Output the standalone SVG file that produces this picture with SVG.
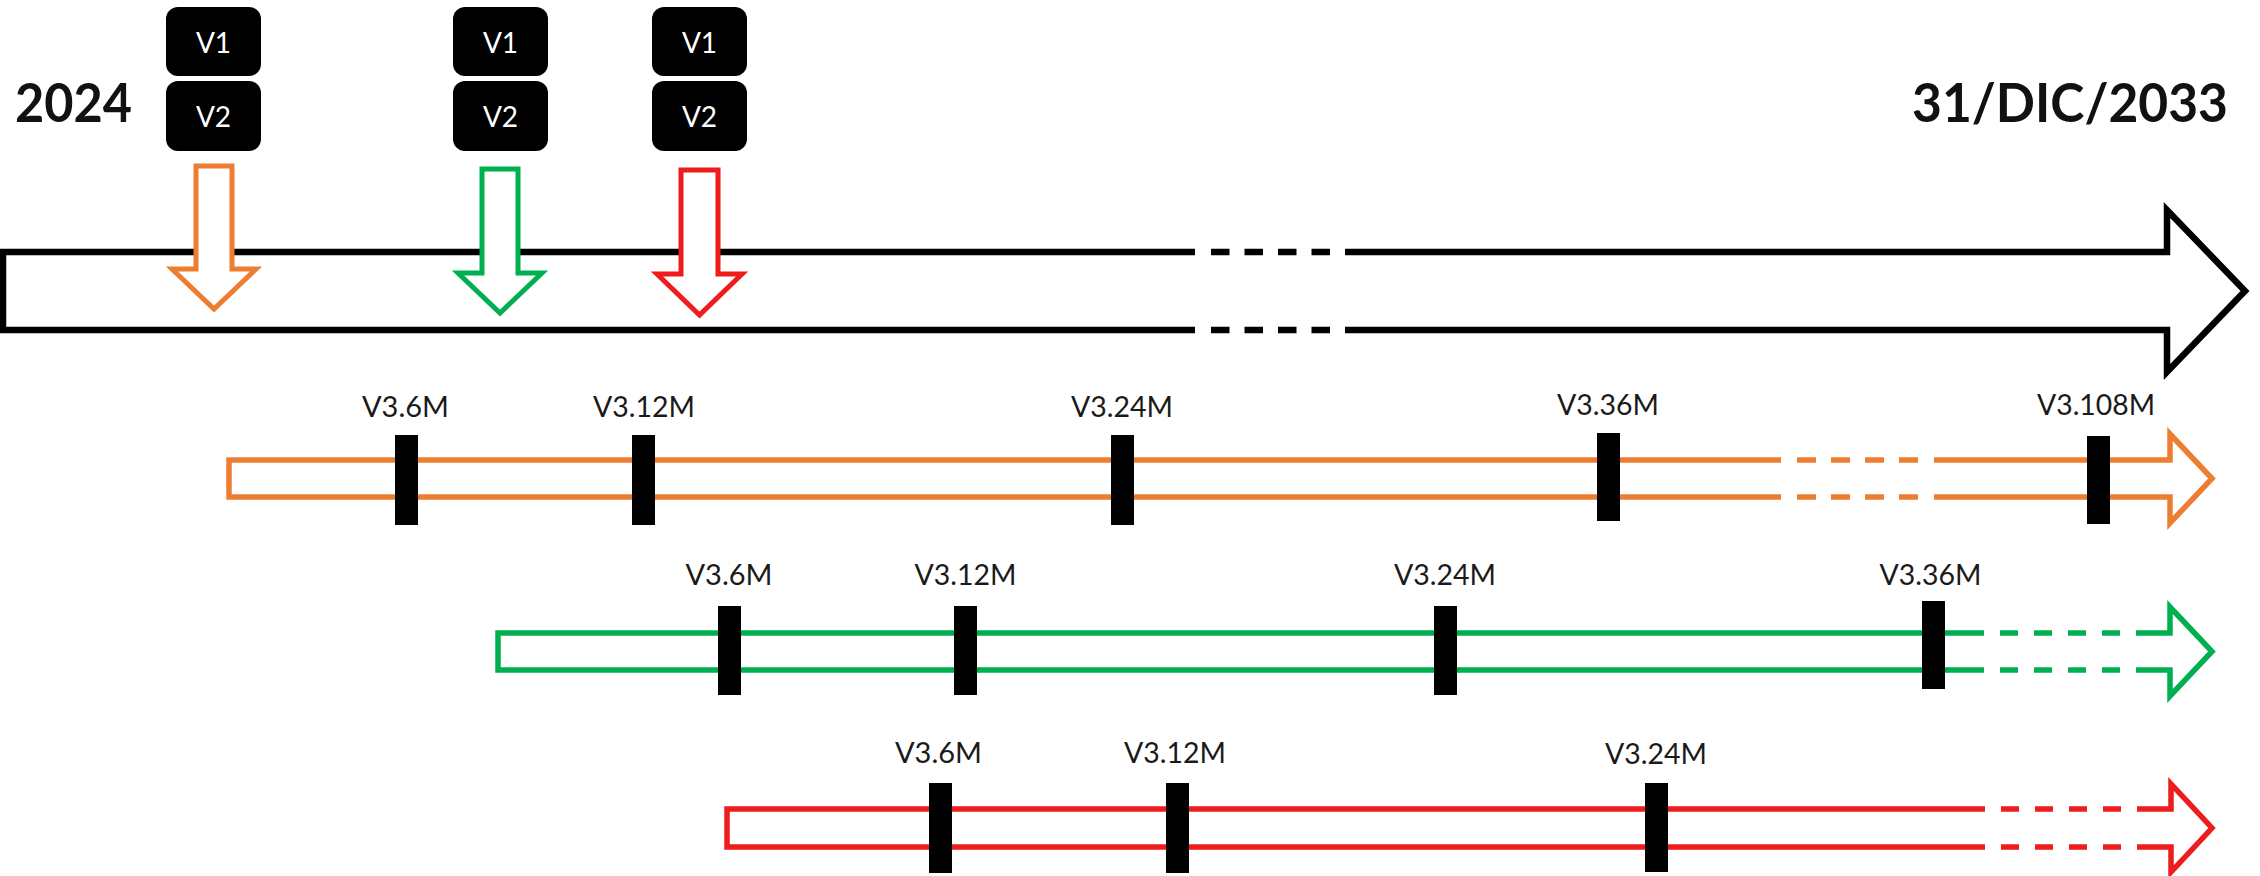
<svg xmlns="http://www.w3.org/2000/svg" width="2260" height="876" viewBox="0 0 2260 876">
  <style>
    .bg { fill: #ffffff; }
    .main { fill: none; stroke: #000000; stroke-width: 6.5; stroke-linejoin: miter; stroke-miterlimit: 10; }
    .maindash { fill: none; stroke: #000000; stroke-width: 6.5; stroke-dasharray: 18.5 15; }
    .title { font-family: Lato, "Liberation Sans", sans-serif; font-weight: bold; font-size: 53px; fill: #111111; }
    .box { fill: #000000; }
    .boxtxt { font-family: Lato, "Liberation Sans", sans-serif; font-size: 28px; fill: #ffffff; text-anchor: middle; }
    .down { fill: #ffffff; stroke-width: 5; stroke-linejoin: miter; }
    .bar { fill: none; stroke-width: 5.5; stroke-linejoin: miter; }
    .dash { fill: none; stroke-width: 5.5; stroke-dasharray: 18 16; }
    .dasho { fill: none; stroke-width: 5.5; stroke-dasharray: 19 15; }
    .orange { stroke: #ED7D31; }
    .green { stroke: #00B050; }
    .red { stroke: #EE1C1C; }
    .tick { fill: #000000; }
    .lbl { font-family: Lato, "Liberation Sans", sans-serif; font-size: 28px; fill: #1a1a1a; text-anchor: middle; }
  </style>
  <rect class="bg" x="0" y="0" width="2260" height="876"/>

  <g id="main-timeline">
    <path class="main" d="M1195,252 L3,252 L3,330 L1195,330"/>
    <line class="maindash" x1="1211" y1="252" x2="1330" y2="252"/>
    <line class="maindash" x1="1211" y1="330" x2="1330" y2="330"/>
    <path class="main" d="M1345,252 L2167,252 L2167,210 L2245,291 L2167,372 L2167,330 L1345,330"/>
  </g>

  <g id="label-start">
    <text class="title" x="15" y="122" textLength="117" lengthAdjust="spacingAndGlyphs">2024</text>
  </g>
  <g id="label-end">
    <text class="title" x="1912" y="122" textLength="316" lengthAdjust="spacingAndGlyphs">31/DIC/2033</text>
  </g>

  <g id="versions-1">
    <rect class="box" x="166" y="7" width="95" height="69" rx="12"/>
    <text class="boxtxt" x="213.5" y="53">V1</text>
    <rect class="box" x="166" y="81" width="95" height="70" rx="12"/>
    <text class="boxtxt" x="213.5" y="127">V2</text>
  </g>
  <g id="versions-2">
    <rect class="box" x="453" y="7" width="95" height="69" rx="12"/>
    <text class="boxtxt" x="500.5" y="53">V1</text>
    <rect class="box" x="453" y="81" width="95" height="70" rx="12"/>
    <text class="boxtxt" x="500.5" y="127">V2</text>
  </g>
  <g id="versions-3">
    <rect class="box" x="652" y="7" width="95" height="69" rx="12"/>
    <text class="boxtxt" x="699.5" y="53">V1</text>
    <rect class="box" x="652" y="81" width="95" height="70" rx="12"/>
    <text class="boxtxt" x="699.5" y="127">V2</text>
  </g>

  <g id="connectors">
    <path class="down orange" d="M196,166 L232,166 L232,269 L256,269 L214,309 L172,269 L196,269 Z"/>
    <path class="down green" d="M482,169 L518,169 L518,273 L542,273 L500,313 L458,273 L482,273 Z"/>
    <path class="down red" d="M681,170 L718,170 L718,274 L742,274 L699.5,315 L657,274 L681,274 Z"/>
  </g>

  <g id="track-orange">
    <path class="bar orange" d="M1781,460 L229,460 L229,497 L1781,497"/>
    <line class="dasho orange" x1="1797" y1="460" x2="1918" y2="460"/>
    <line class="dasho orange" x1="1797" y1="497" x2="1918" y2="497"/>
    <path class="bar orange" d="M1934,460 L2170,460 L2170,434 L2212,478.5 L2170,523 L2170,497 L1934,497"/>
    <rect class="tick" x="395" y="435" width="23" height="90"/>
    <rect class="tick" x="632" y="435" width="23" height="90"/>
    <rect class="tick" x="1111" y="435" width="23" height="90"/>
    <rect class="tick" x="1597" y="433" width="23" height="88"/>
    <rect class="tick" x="2087" y="436" width="23" height="88"/>
    <text class="lbl" x="405.5" y="417" textLength="87" lengthAdjust="spacingAndGlyphs">V3.6M</text>
    <text class="lbl" x="644" y="417" textLength="102" lengthAdjust="spacingAndGlyphs">V3.12M</text>
    <text class="lbl" x="1122" y="417" textLength="102" lengthAdjust="spacingAndGlyphs">V3.24M</text>
    <text class="lbl" x="1608" y="415" textLength="102" lengthAdjust="spacingAndGlyphs">V3.36M</text>
    <text class="lbl" x="2096" y="415" textLength="118" lengthAdjust="spacingAndGlyphs">V3.108M</text>
  </g>

  <g id="track-green">
    <path class="bar green" d="M1984,633 L498,633 L498,670 L1984,670"/>
    <line class="dash green" x1="2000" y1="633" x2="2120" y2="633"/>
    <line class="dash green" x1="2000" y1="670" x2="2120" y2="670"/>
    <path class="bar green" d="M2136,633 L2170,633 L2170,607 L2212,651.5 L2170,696 L2170,670 L2136,670"/>
    <rect class="tick" x="718" y="606" width="23" height="89"/>
    <rect class="tick" x="954" y="606" width="23" height="89"/>
    <rect class="tick" x="1434" y="606" width="23" height="89"/>
    <rect class="tick" x="1922" y="601" width="23" height="88"/>
    <text class="lbl" x="729" y="585" textLength="87" lengthAdjust="spacingAndGlyphs">V3.6M</text>
    <text class="lbl" x="965.5" y="585" textLength="102" lengthAdjust="spacingAndGlyphs">V3.12M</text>
    <text class="lbl" x="1445" y="585" textLength="102" lengthAdjust="spacingAndGlyphs">V3.24M</text>
    <text class="lbl" x="1930.5" y="585" textLength="102" lengthAdjust="spacingAndGlyphs">V3.36M</text>
  </g>

  <g id="track-red">
    <path class="bar red" d="M1985,809 L727,809 L727,847 L1985,847"/>
    <line class="dash red" x1="2001" y1="809" x2="2121" y2="809"/>
    <line class="dash red" x1="2001" y1="847" x2="2121" y2="847"/>
    <path class="bar red" d="M2137,809 L2171,809 L2171,784 L2212,828 L2171,872 L2171,847 L2137,847"/>
    <rect class="tick" x="929" y="783" width="23" height="90"/>
    <rect class="tick" x="1166" y="783" width="23" height="90"/>
    <rect class="tick" x="1645" y="783" width="23" height="89"/>
    <text class="lbl" x="938.5" y="763" textLength="87" lengthAdjust="spacingAndGlyphs">V3.6M</text>
    <text class="lbl" x="1175" y="763" textLength="102" lengthAdjust="spacingAndGlyphs">V3.12M</text>
    <text class="lbl" x="1656" y="764" textLength="102" lengthAdjust="spacingAndGlyphs">V3.24M</text>
  </g>
</svg>
